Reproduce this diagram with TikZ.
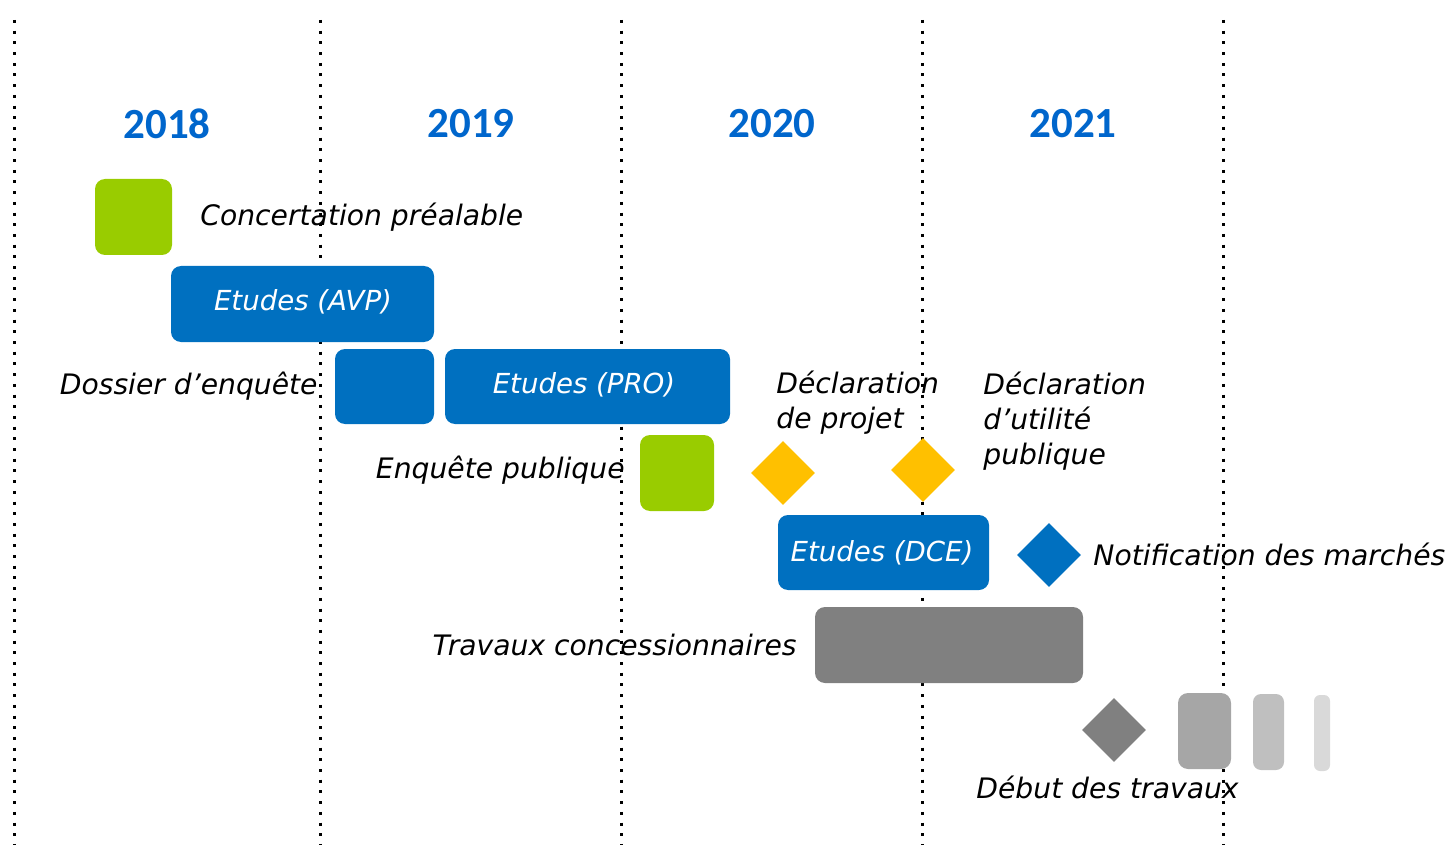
\documentclass[tikz,border=0pt]{standalone}
\usepackage{fontspec}
\setmainfont{DejaVu Sans}
\newfontfamily\yearfont{Carlito}
\usetikzlibrary{shapes.geometric}
\definecolor{yearblue}{HTML}{0066CC}
\definecolor{boxblue}{HTML}{0070C0}
\definecolor{boxgreen}{HTML}{99CC00}
\definecolor{msyellow}{HTML}{FFC000}
\definecolor{grA}{HTML}{808080}
\definecolor{grB}{HTML}{A6A6A6}
\definecolor{grC}{HTML}{BFBFBF}
\definecolor{grD}{HTML}{D9D9D9}
\tikzset{
  year/.style={font=\yearfont\bfseries\fontsize{21.5}{24}\selectfont, text=yearblue},
  lbl/.style={font=\itshape\fontsize{14.1}{17.3}\selectfont, text=black, inner sep=0pt},
  boxtxt/.style={font=\itshape\fontsize{13.8}{17}\selectfont, text=white},
  sep/.style={line width=1.5pt, dash pattern=on 1.5pt off 3.85pt, black},
  bar/.style={rounded corners=5pt, draw=none},
  mile/.style={draw=none},
}
\begin{document}
\begin{tikzpicture}[x=0.5pt,y=-0.5pt]
\useasboundingbox (0,0) rectangle (1445,845);
% separators
\foreach \xx/\nm in {14/s0,320/s1,621/s2,922/s3,1223/s4}{
  \coordinate (\nm t) at (\xx,20);
  \coordinate (\nm b) at (\xx,845);
  \draw[sep] (\nm t) -- (\nm b);
}
% years
\node[year] (y18) at (167,124) {2018};
\node[year] (y19) at (471,124) {2019};
\node[year] (y20) at (772,124) {2020};
\node[year] (y21) at (1073,124) {2021};
% bars
\fill[boxgreen,bar] (95,179) rectangle (172,255) coordinate (conc);
\node[lbl,anchor=west] (lconc) at (200,217) {Concertation préalable};
\fill[boxblue,bar] (171,266) rectangle (434,342);
\node[boxtxt] (avp) at (303,302) {Etudes (AVP)};
\fill[boxblue,bar] (335,349) rectangle (434,424);
\node[lbl,anchor=east] (ldos) at (318,386) {Dossier d’enquête};
\fill[boxblue,bar] (445,349) rectangle (730,424);
\node[boxtxt] (pro) at (584,385) {Etudes (PRO)};
\fill[boxgreen,bar] (640,435) rectangle (714,511);
\node[lbl,anchor=east] (lenq) at (625,470) {Enquête publique};
% milestones
\node[mile,fill=msyellow,diamond,minimum width=32pt,minimum height=32pt,inner sep=0pt] (dp) at (783,473) {};
\node[mile,fill=msyellow,diamond,minimum width=32pt,minimum height=32pt,inner sep=0pt] (dup) at (923,470) {};
\node[lbl,anchor=north west,align=left] (ldp) at (776,371) {Déclaration\\de projet};
\node[lbl,anchor=north west,align=left] (ldup) at (983,372) {Déclaration\\d’utilité\\publique};
\fill[boxblue,bar] (778,515) rectangle (989,590);
\node[boxtxt] (dce) at (882,553) {Etudes (DCE)};
\node[mile,fill=boxblue,diamond,minimum width=32pt,minimum height=32pt,inner sep=0pt] (nm) at (1049,555) {};
\node[lbl,anchor=west] (lnm) at (1093,554) {Notification des marchés};
\fill[grA,bar] (815,607) rectangle (1083,683);
\node[lbl,anchor=east] (ltc) at (797,645) {Travaux concessionnaires};
\node[mile,fill=grA,diamond,minimum width=32pt,minimum height=32pt,inner sep=0pt] (dt) at (1114,730) {};
\fill[grB,bar] (1178,693) rectangle (1231,769);
\fill[grC,rounded corners=4pt] (1253,694) rectangle (1284,770);
\fill[grD,rounded corners=3pt] (1314,695) rectangle (1330,771);
\node[lbl,anchor=west] (ldt) at (976,787) {Début des travaux};
\end{tikzpicture}
\end{document}
